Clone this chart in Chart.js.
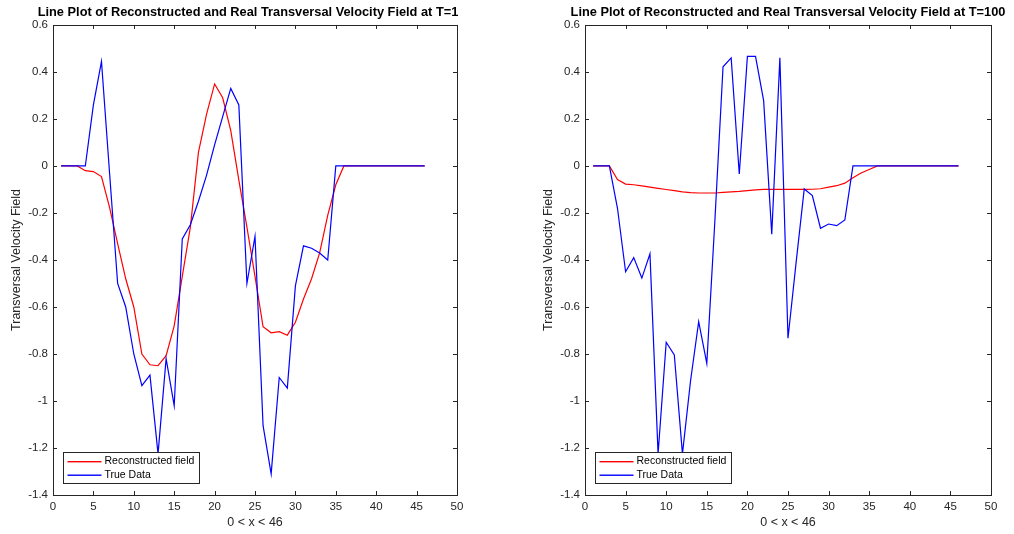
<!DOCTYPE html>
<html>
<head>
<meta charset="utf-8">
<script src="https://cdn.jsdelivr.net/npm/chart.js@4.4.1/dist/chart.umd.min.js"></script>
<style>
  html, body { margin: 0; padding: 0; background: #fff; overflow: hidden; width: 1014px; height: 534px; }
  canvas { position: absolute; top: 0; }
  #left-chart { left: 0; }
  #right-chart { left: 532px; }
</style>
</head>
<body>
<canvas id="left-chart" width="496" height="534"></canvas>
<canvas id="right-chart" width="512" height="534"></canvas>
<script>
const xs = [1, 2, 3, 4, 5, 6, 7, 8, 9, 10, 11, 12, 13, 14, 15, 16, 17, 18, 19, 20, 21, 22, 23,
  24, 25, 26, 27, 28, 29, 30, 31, 32, 33, 34, 35, 36, 37, 38, 39, 40, 41, 42, 43, 44, 45, 46];

const xTicks = [0, 5, 10, 15, 20, 25, 30, 35, 40, 45, 50];
const yTicks = [-1.4, -1.2, -1, -0.8, -0.6, -0.4, -0.2, 0, 0.2, 0.4, 0.6];

const seriesLabels = ['Reconstructed field', 'True Data'];
const seriesColors = ['#ff0000', '#0000ff'];

// T=1
const reconT1 = [0, 0, 0, -0.02, -0.024, -0.045, -0.176, -0.33, -0.48, -0.60, -0.80, -0.846, -0.85, -0.807,
  -0.68, -0.47, -0.26, 0.058, 0.22, 0.349, 0.29, 0.15, -0.06, -0.26, -0.47, -0.684, -0.71, -0.705, -0.72,
  -0.665, -0.566, -0.48, -0.37, -0.21, -0.08, 0, 0, 0, 0, 0, 0, 0, 0, 0, 0, 0];
const trueT1 = [0, 0, 0, 0, 0.26, 0.445, -0.03, -0.50, -0.60, -0.80, -0.935, -0.89, -1.225, -0.82, -1.02,
  -0.31, -0.25, -0.15, -0.04, 0.09, 0.21, 0.33, 0.26, -0.50, -0.30, -1.105, -1.31, -0.90, -0.945, -0.51,
  -0.34, -0.35, -0.37, -0.40, 0, 0, 0, 0, 0, 0, 0, 0, 0, 0, 0, 0];

// T=100
const reconT100 = [0, 0, 0, -0.058, -0.077, -0.08, -0.085, -0.09, -0.095, -0.10, -0.105, -0.11, -0.113,
  -0.115, -0.115, -0.115, -0.112, -0.11, -0.108, -0.105, -0.102, -0.10, -0.10, -0.10, -0.10, -0.10, -0.10,
  -0.099, -0.097, -0.09, -0.084, -0.073, -0.05, -0.03, -0.015, 0, 0, 0, 0, 0, 0, 0, 0, 0, 0, 0];
const trueT100 = [0, 0, 0, -0.18, -0.45, -0.39, -0.477, -0.374, -1.225, -0.75, -0.804, -1.225, -0.914,
  -0.662, -0.84, -0.23, 0.422, 0.46, -0.034, 0.466, 0.466, 0.278, -0.29, 0.46, -0.733, -0.41, -0.098,
  -0.126, -0.265, -0.247, -0.254, -0.23, 0, 0, 0, 0, 0, 0, 0, 0, 0, 0, 0, 0, 0, 0];

const FONT = "'Liberation Sans', Arial, sans-serif";
const AXIS_COLOR = '#262626';
Chart.defaults.font.family = FONT;

// box around the axes with inward ticks on all four sides, plus an inside legend
const axesBox = {
  id: 'axesBox',
  afterDatasetsDraw(chart) {
    const { ctx, chartArea: a, scales } = chart;
    ctx.save();
    ctx.strokeStyle = AXIS_COLOR;
    ctx.lineWidth = 1;
    ctx.strokeRect(Math.round(a.left) + 0.5, Math.round(a.top) + 0.5,
      Math.round(a.right - a.left), Math.round(a.bottom - a.top));
    ctx.beginPath();
    for (const t of scales.x.ticks) {
      const px = Math.round(scales.x.getPixelForValue(t.value)) + 0.5;
      ctx.moveTo(px, a.bottom); ctx.lineTo(px, a.bottom - 4);
      ctx.moveTo(px, a.top); ctx.lineTo(px, a.top + 4);
    }
    for (const t of scales.y.ticks) {
      const py = Math.round(scales.y.getPixelForValue(t.value)) + 0.5;
      ctx.moveTo(a.left, py); ctx.lineTo(a.left + 4, py);
      ctx.moveTo(a.right, py); ctx.lineTo(a.right - 4, py);
    }
    ctx.stroke();

    // legend
    const lx = Math.round(a.left) + 10.5, ly = Math.round(a.bottom) - 42.5;
    ctx.fillStyle = '#fff';
    ctx.fillRect(lx, ly, 136, 31);
    ctx.strokeStyle = AXIS_COLOR;
    ctx.strokeRect(lx, ly, 136, 31);
    ctx.font = '10.5px ' + FONT;
    ctx.textBaseline = 'middle';
    seriesLabels.forEach((label, i) => {
      const y = ly + 9 + i * 13.5;
      ctx.fillStyle = seriesColors[i];
      ctx.fillRect(lx + 4, y - 0.5, 34, 1.4);
      ctx.fillStyle = '#000';
      ctx.fillText(label, lx + 41, y);
    });
    ctx.restore();
  }
};

function makeChart(canvasId, titleText, recon, truth, rightPad) {
  const tickFont = { size: 11.5, family: FONT };
  const labelFont = { size: 12.5, family: FONT };
  return new Chart(document.getElementById(canvasId), {
    type: 'line',
    data: {
      labels: xs,
      datasets: [
        { label: seriesLabels[0], data: recon, borderColor: seriesColors[0], order: 1 },
        { label: seriesLabels[1], data: truth, borderColor: seriesColors[1], order: 0 },
      ].map(d => ({ ...d, borderWidth: 1.2, pointRadius: 0, tension: 0, fill: false })),
    },
    options: {
      responsive: false,
      animation: false,
      layout: { padding: 0 },
      plugins: {
        legend: { display: false },
        tooltip: { enabled: false },
        title: {
          display: true,
          text: titleText,
          fullSize: true,
          color: '#000',
          font: { size: 12.8, weight: 'bold', family: FONT },
          padding: { top: 4.3, bottom: 5.3 },
        },
      },
      scales: {
        x: {
          type: 'linear',
          min: 0,
          max: 50,
          afterBuildTicks: s => { s.ticks = xTicks.map(v => ({ value: v })); },
          afterFit: s => { s.height = 39; },
          grid: { display: false, drawTicks: false },
          border: { display: false },
          ticks: { font: tickFont, color: AXIS_COLOR, padding: 4.8, maxRotation: 0, autoSkip: false },
          title: {
            display: true, text: '0 < x < 46', color: AXIS_COLOR,
            font: labelFont, padding: { top: 0, bottom: 3.5 },
          },
        },
        y: {
          type: 'linear',
          min: -1.4,
          max: 0.6,
          afterBuildTicks: s => { s.ticks = yTicks.map(v => ({ value: v })); },
          afterFit: s => { s.width = 53; },
          grid: { display: false, drawTicks: false },
          border: { display: false },
          ticks: {
            font: tickFont, color: AXIS_COLOR, padding: 5, autoSkip: false,
            callback: v => String(Math.round(v * 10) / 10),
          },
          title: {
            display: true, text: 'Transversal Velocity Field', color: AXIS_COLOR,
            font: labelFont, padding: { top: 9.5, bottom: 0 },
          },
        },
        y2: {
          position: 'right',
          min: -1.4,
          max: 0.6,
          afterFit: s => { s.width = rightPad; },
          grid: { display: false, drawTicks: false },
          border: { display: false },
          ticks: { display: false },
        },
      },
    },
    plugins: [axesBox],
  });
}

makeChart('left-chart', 'Line Plot of Reconstructed and Real Transversal Velocity Field at T=1',
  reconT1, trueT1, 39);
makeChart('right-chart', 'Line Plot of Reconstructed and Real Transversal Velocity Field at T=100',
  reconT100, trueT100, 53);
</script>
</body>
</html>
